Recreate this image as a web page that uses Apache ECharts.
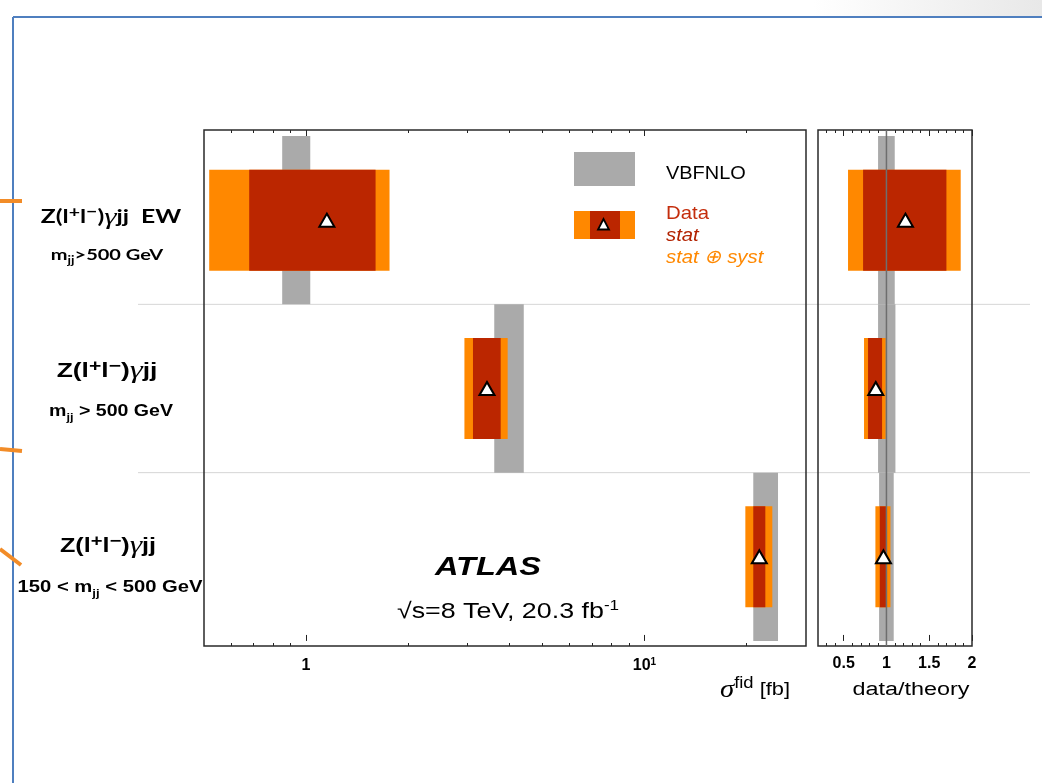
<!DOCTYPE html>
<html>
<head>
<meta charset="utf-8">
<script src="https://cdn.jsdelivr.net/npm/echarts@6/dist/echarts.min.js"></script>
<style>
  html, body { margin: 0; padding: 0; background: #ffffff; }
  #chart { width: 1042px; height: 783px; }
</style>
</head>
<body>
<div id="chart"></div>
<script>
// Fiducial cross sections in fb, one entry per phase-space region (top to bottom)
const regionNames = ['Zγjj EW, mjj > 500 GeV', 'Zγjj, mjj > 500 GeV', 'Zγjj, 150 < mjj < 500 GeV'];
const vbfnloLow  = [0.851, 3.60, 20.96];
const vbfnloHigh = [1.030, 4.40, 24.80];
const dataValue  = [1.153, 3.426, 21.84];
const statLow    = [0.680, 3.115, 20.96];
const statHigh   = [1.606, 3.761, 22.75];
const totalLow   = [0.518, 2.939, 19.86];
const totalHigh  = [1.766, 3.944, 23.86];

// Data / theory ratios
const ratioTheoryLow  = [0.902, 0.902, 0.914];
const ratioTheoryHigh = [1.097, 1.105, 1.085];
const ratioValue      = [1.222, 0.875, 0.965];
const ratioStatLow    = [0.727, 0.785, 0.922];
const ratioStatHigh   = [1.701, 0.949, 0.995];
const ratioTotalLow   = [0.551, 0.738, 0.871];
const ratioTotalHigh  = [1.868, 0.992, 1.047];
const ratioReference  = 1;

// Axis ranges and ticks
const sigmaRange      = [0.5, 30];
const sigmaMajorTicks = [1, 10];
const sigmaMinorTicks = [0.6, 0.7, 0.8, 0.9, 2, 3, 4, 5, 6, 7, 8, 9, 20];
const ratioRange      = [0.2, 2];
const ratioMajorTicks = [0.5, 1, 1.5, 2];
const ratioMinorTicks = [0.3, 0.4, 0.6, 0.7, 0.8, 0.9, 1.1, 1.2, 1.3, 1.4, 1.6, 1.7, 1.8, 1.9];

// Vertical layout: each region occupies one unit, top region first
const Y_MIN = -0.03, Y_MAX = 3.036;
const rowCenter = i => regionNames.length - 0.5 - i;

const COL_THEORY = '#aaaaaa';
const COL_TOTAL  = '#ff8800';
const COL_STAT   = '#bb2600';
const SANS = "'Liberation Sans', Arial, Helvetica, sans-serif";
const SERIF = "'Liberation Serif', 'DejaVu Serif', serif";
const HUMANIST = "Lato, 'Open Sans', sans-serif";

const lg = Math.log10;

function boxRenderer(halfHeight, color) {
  return function (params, api) {
    const yc = api.value(2);
    const a = api.coord([api.value(0), yc + halfHeight]);
    const b = api.coord([api.value(1), yc - halfHeight]);
    return {
      type: 'rect',
      shape: { x: a[0], y: a[1], width: b[0] - a[0], height: b[1] - a[1] },
      style: { fill: color }
    };
  };
}

function boxSeries(name, xi, yi, lows, highs, halfHeight, color, z, transform) {
  const f = transform || (v => v);
  return {
    type: 'custom', name: name, xAxisIndex: xi, yAxisIndex: yi, z: z,
    renderItem: boxRenderer(halfHeight, color),
    encode: { x: [0, 1], y: 2 },
    data: lows.map((lo, i) => [f(lo), f(highs[i]), rowCenter(i)]),
    silent: true
  };
}

function markerSeries(name, xi, yi, values, transform) {
  const f = transform || (v => v);
  return {
    type: 'scatter', name: name, xAxisIndex: xi, yAxisIndex: yi, z: 6,
    symbol: 'triangle', symbolSize: [15, 13],
    itemStyle: { color: '#ffffff', borderColor: '#000000', borderWidth: 2, opacity: 1 },
    data: values.map((v, i) => [f(v), rowCenter(i)]),
    silent: true
  };
}

function tickAxis(gridIndex, position, range, ticks, length, label) {
  return {
    type: 'value', gridIndex: gridIndex, position: position,
    min: range[0], max: range[1],
    axisLine: { show: false },
    splitLine: { show: false },
    axisTick: { show: true, inside: true, length: length, customValues: ticks,
                lineStyle: { color: '#222222', width: 1 } },
    axisLabel: label || { show: false }
  };
}

const sigmaLabel = {
  show: true,
  customValues: sigmaMajorTicks.map(lg),
  margin: 11,
  color: '#000', fontFamily: SANS, fontWeight: 'bold', fontSize: 16,
  formatter: v => Math.abs(v) < 1e-6 ? '{b|1}' : '{b|10}{s|1}',
  rich: {
    b: { fontFamily: SANS, fontWeight: 'bold', fontSize: 16, color: '#000', lineHeight: 18 },
    s: { fontFamily: SANS, fontWeight: 'bold', fontSize: 10, color: '#000', verticalAlign: 'top', lineHeight: 10 }
  }
};

const ratioLabel = {
  show: true,
  customValues: ratioMajorTicks,
  margin: 10,
  color: '#000', fontFamily: SANS, fontWeight: 'bold', fontSize: 16,
  showMinLabel: true, showMaxLabel: true,
  formatter: v => String(+v.toFixed(2))
};

const sigmaLogRange = sigmaRange.map(lg);

const option = {
  animation: false,
  backgroundColor: '#ffffff',
  grid: [
    { left: 204, top: 130, width: 602, bottom: 137, show: true, borderColor: '#2a2a2a', borderWidth: 1.5, backgroundColor: 'transparent', z: 3 },
    { left: 818, top: 130, width: 154, bottom: 137, show: true, borderColor: '#2a2a2a', borderWidth: 1.5, backgroundColor: 'transparent', z: 3 }
  ],
  xAxis: [
    tickAxis(0, 'bottom', sigmaLogRange, sigmaMajorTicks.map(lg), 6, sigmaLabel),
    tickAxis(0, 'bottom', sigmaLogRange, sigmaMinorTicks.map(lg), 3),
    tickAxis(0, 'top', sigmaLogRange, sigmaMajorTicks.map(lg), 6),
    tickAxis(0, 'top', sigmaLogRange, sigmaMinorTicks.map(lg), 3),
    tickAxis(1, 'bottom', ratioRange, ratioMajorTicks, 6, ratioLabel),
    tickAxis(1, 'bottom', ratioRange, ratioMinorTicks, 3),
    tickAxis(1, 'top', ratioRange, ratioMajorTicks, 6),
    tickAxis(1, 'top', ratioRange, ratioMinorTicks, 3)
  ],
  yAxis: [
    { type: 'value', gridIndex: 0, min: Y_MIN, max: Y_MAX, show: false },
    { type: 'value', gridIndex: 1, min: Y_MIN, max: Y_MAX, show: false }
  ],
  series: [
    boxSeries('VBFNLO', 0, 0, vbfnloLow, vbfnloHigh, 0.5, COL_THEORY, 2, lg),
    boxSeries('stat ⊕ syst', 0, 0, totalLow, totalHigh, 0.3, COL_TOTAL, 3, lg),
    boxSeries('stat', 0, 0, statLow, statHigh, 0.3, COL_STAT, 4, lg),
    markerSeries('Data', 0, 0, dataValue, lg),

    boxSeries('VBFNLO ratio', 4, 1, ratioTheoryLow, ratioTheoryHigh, 0.5, COL_THEORY, 2),
    boxSeries('stat ⊕ syst ratio', 4, 1, ratioTotalLow, ratioTotalHigh, 0.3, COL_TOTAL, 3),
    boxSeries('stat ratio', 4, 1, ratioStatLow, ratioStatHigh, 0.3, COL_STAT, 4),
    {
      type: 'line', name: 'unity', xAxisIndex: 4, yAxisIndex: 1, z: 5,
      symbol: 'none', silent: true,
      lineStyle: { color: '#6e6e6e', width: 1.5 },
      data: [[ratioReference, Y_MIN], [ratioReference, Y_MAX]]
    },
    markerSeries('Data ratio', 4, 1, ratioValue)
  ]
};

const chart = echarts.init(document.getElementById('chart'), null, { renderer: 'canvas' });
chart.setOption(option);

// Row-dependent annotation positions come from the axes themselves
const py = v => chart.convertToPixel({ gridIndex: 0 }, [0, v])[1];
const boundaryY = [py(1), py(2)];
const centers = regionNames.map((_, i) => py(rowCenter(i)));

const labelRich = (font, size, subSize) => ({
  t: { fontFamily: font, fontWeight: 'bold', fontSize: size, color: '#000', lineHeight: size + 6 },
  p: { fontFamily: font, fontWeight: 'bold', fontSize: Math.round(size * 0.78), color: '#000', verticalAlign: 'top', lineHeight: Math.round(size * 0.6) },
  g: { fontFamily: SERIF, fontStyle: 'italic', fontSize: size + 5, color: '#000', lineHeight: size + 6 },
  s: { fontFamily: font, fontWeight: 'bold', fontSize: subSize, color: '#000', verticalAlign: 'bottom', lineHeight: Math.round(subSize * 1.05) }
});

// Text drawn with a horizontal stretch factor
function text(x, y, content, style, stretch, z) {
  return {
    type: 'text', x: x, y: y, z: z || 10, silent: true, scaleX: stretch || 1,
    style: Object.assign({ text: content, fill: '#000', verticalAlign: 'middle' }, style)
  };
}

const ZGJJ = '{t|Z(l}{p|+}{t|l}{p|−}{t|)}{g|γ}{t|jj}';

const graphics = [
  // slide frame
  { type: 'rect', z: 0, silent: true, shape: { x: 0, y: 0, width: 1042, height: 16 },
    style: { fill: new echarts.graphic.LinearGradient(0, 0, 1, 0, [
      { offset: 0, color: '#ffffff' }, { offset: 0.78, color: '#ffffff' }, { offset: 1, color: '#e8e8e8' }]) } },
  { type: 'line', z: 1, silent: true, shape: { x1: 13, y1: 17, x2: 1042, y2: 17 }, style: { stroke: '#4f7fbf', lineWidth: 2 } },
  { type: 'line', z: 1, silent: true, shape: { x1: 13, y1: 17, x2: 13, y2: 783 }, style: { stroke: '#4f7fbf', lineWidth: 2 } },
  // arrow stubs
  { type: 'line', z: 1, silent: true, shape: { x1: 0, y1: 201, x2: 22, y2: 201 }, style: { stroke: '#f28c28', lineWidth: 4 } },
  { type: 'line', z: 1, silent: true, shape: { x1: 0, y1: 449, x2: 22, y2: 451 }, style: { stroke: '#f28c28', lineWidth: 4 } },
  { type: 'line', z: 1, silent: true, shape: { x1: 0, y1: 549, x2: 21, y2: 565 }, style: { stroke: '#f28c28', lineWidth: 4 } },

  // region separators
  ...boundaryY.map(y => ({ type: 'line', z: 1, silent: true,
    shape: { x1: 138, y1: y, x2: 1030, y2: y }, style: { stroke: '#d6d6d6', lineWidth: 1 } })),

  // region labels
  text(111, centers[0] - 3, '{t|Z(l}{p|+}{t|l}{p|−}{t|)}{g|γ}{t|jj  EW}', { align: 'center', rich: labelRich(HUMANIST, 19, 11) }, 1.3),
  text(107, centers[0] + 35, '{t|m}{s|jj}{t|>500 GeV}', { align: 'center', rich: labelRich(HUMANIST, 16, 11) }, 1.25),
  text(107, centers[1] - 17, ZGJJ, { align: 'center', rich: labelRich(SANS, 20, 11) }, 1.32),
  text(111, centers[1] + 23, '{t|m}{s|jj}{t| > 500 GeV}', { align: 'center', rich: labelRich(SANS, 17, 11) }, 1.15),
  text(108, centers[2] - 10, ZGJJ, { align: 'center', rich: labelRich(SANS, 20, 11) }, 1.26),
  text(110, centers[2] + 31, '{t|150 < m}{s|jj}{t| < 500 GeV}', { align: 'center', rich: labelRich(SANS, 17, 11) }, 1.19),

  // legend
  { type: 'rect', z: 10, silent: true, shape: { x: 574, y: 152, width: 61, height: 34 }, style: { fill: COL_THEORY } },
  text(666, 174, 'VBFNLO', { fontFamily: SANS, fontSize: 19 }, 1.05),
  { type: 'rect', z: 10, silent: true, shape: { x: 574, y: 211, width: 61, height: 28 }, style: { fill: COL_TOTAL } },
  { type: 'rect', z: 11, silent: true, shape: { x: 590, y: 211, width: 30, height: 28 }, style: { fill: COL_STAT } },
  { type: 'polygon', z: 12, silent: true, shape: { points: [[603.5, 219], [598, 229.5], [609, 229.5]] },
    style: { fill: '#ffffff', stroke: '#000000', lineWidth: 1.8 } },
  text(666, 214, 'Data', { fontFamily: SANS, fontSize: 19, fill: '#c42d0c' }, 1.07),
  text(666, 236, 'stat', { fontFamily: SANS, fontStyle: 'italic', fontSize: 19, fill: '#b22200' }, 1.07),
  text(666, 258, 'stat ⊕ syst', { fontFamily: SANS, fontStyle: 'italic', fontSize: 19, fill: '#ff8800' }, 1.07),

  // experiment label
  text(488, 568, 'ATLAS', { fontFamily: SANS, fontWeight: 'bold', fontStyle: 'italic', fontSize: 26, align: 'center' }, 1.25),
  text(508, 612, '{n|√s=8 TeV, 20.3 fb}{e|-1}', { align: 'center',
    rich: { n: { fontFamily: SANS, fontSize: 22, color: '#000', lineHeight: 26 },
            e: { fontFamily: SANS, fontSize: 14, color: '#000', verticalAlign: 'top', lineHeight: 14 } } }, 1.22),

  // axis titles
  text(790, 690, '{g|σ}{f|fid}{u| [fb]}', { align: 'right',
    rich: { g: { fontFamily: SERIF, fontStyle: 'italic', fontSize: 25, color: '#000', lineHeight: 28 },
            f: { fontFamily: SANS, fontSize: 16, color: '#000', verticalAlign: 'top', lineHeight: 16 },
            u: { fontFamily: SANS, fontSize: 19, color: '#000', lineHeight: 28 } } }, 1.15),
  text(911, 690, 'data/theory', { fontFamily: SANS, fontSize: 18, align: 'center' }, 1.3)
];

chart.setOption({ graphic: graphics });
</script>
</body>
</html>
